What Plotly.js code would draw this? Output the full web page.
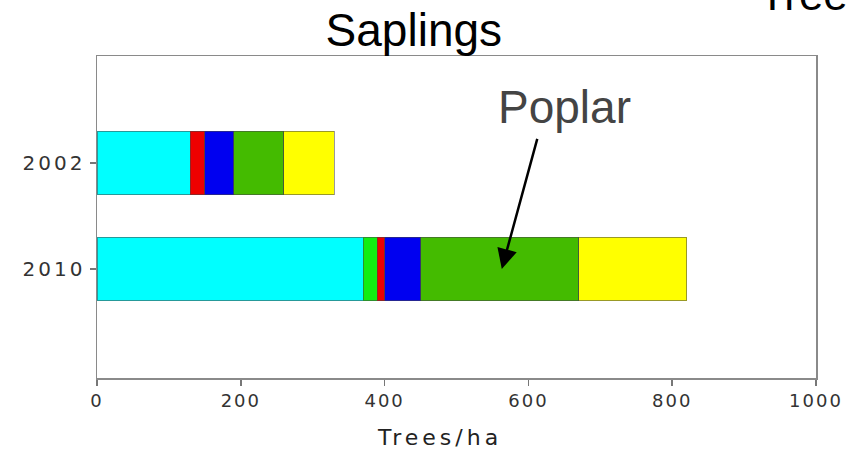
<!DOCTYPE html>
<html>
<head>
<meta charset="utf-8">
<script src="https://cdn.plot.ly/plotly-3.0.1.min.js"></script>
<style>
  body { margin: 0; background: #fff; }
  #chart { width: 848px; height: 452px; }
  .ytick text { letter-spacing: 3px; }
  .xtick text { letter-spacing: 2px; }
</style>
</head>
<body>
<div id="chart"></div>
<script>
// Data (Trees/ha, saplings)
const years = ['2002', '2010'];
const seriesNames = ['Species A', 'Species B', 'Species C', 'Species D', 'Poplar', 'Species E'];
const speciesA = [130, 370];   // cyan
const speciesB = [null, 20];   // bright green
const speciesC = [20, 10];     // red
const speciesD = [40, 50];     // blue
const poplar   = [70, 220];    // green (Poplar)
const speciesE = [70, 150];    // yellow
const seriesColors = ['#00FFFF', '#11EE11', '#EE0000', '#0000F0', '#44BB00', '#FFFF00'];
const xTicks = [0, 200, 400, 600, 800, 1000];
const categoryOrder = ['2010', '2002'];   // bottom to top

const allValues = [speciesA, speciesB, speciesC, speciesD, poplar, speciesE];

const traces = allValues.map((vals, i) => ({
  type: 'bar',
  orientation: 'h',
  name: seriesNames[i],
  y: years,
  x: vals,
  width: 0.6,
  marker: { color: seriesColors[i], line: { color: 'rgba(70,70,70,0.55)', width: 1 } },
  hoverinfo: 'x+name'
}));

const layout = {
  width: 848,
  height: 452,
  margin: { l: 97, r: 32, t: 56, b: 74 },
  barmode: 'stack',
  showlegend: false,
  paper_bgcolor: '#fff',
  plot_bgcolor: '#fff',
  title: {
    text: 'Saplings',
    font: { family: 'Liberation Sans, Arial, sans-serif', size: 46, color: '#000' },
    x: 0.488, xanchor: 'center', xref: 'container',
    y: 0.934, yanchor: 'middle', yref: 'container'
  },
  xaxis: {
    range: [0, 1000],
    tickvals: xTicks,
    ticktext: xTicks.map(String),
    ticks: 'outside', ticklen: 6, tickcolor: '#777', tickwidth: 1.5,
    showgrid: false, zeroline: false,
    showline: true, linecolor: '#8a8a8a', linewidth: 1.5, mirror: true,
    tickfont: { family: 'DejaVu Sans, Arial, sans-serif', size: 18, color: '#333' }
  },
  yaxis: {
    type: 'category',
    categoryorder: 'array',
    categoryarray: categoryOrder,
    range: [-1.03, 2.01],
    ticks: 'outside', ticklen: 6, tickcolor: '#777', tickwidth: 1.5,
    showgrid: false, zeroline: false,
    showline: true, linecolor: '#8a8a8a', linewidth: 1.5, mirror: true,
    tickfont: { family: 'DejaVu Sans, Arial, sans-serif', size: 20, color: '#333' }
  },
  annotations: [
    {
      // arrow pointing at the Poplar segment of the 2010 bar
      xref: 'x', yref: 'y',
      x: 563, y: categoryOrder.indexOf('2010'),
      text: ' ',
      font: { size: 1 },
      showarrow: true,
      standoff: 0, startstandoff: 0,
      ax: 36, ay: -132,
      arrowhead: 2, arrowsize: 1.6, arrowwidth: 2.5, arrowcolor: '#000'
    },
    {
      xref: 'x', yref: 'paper',
      x: 650, y: 0.842,
      xanchor: 'center', yanchor: 'middle',
      text: 'Poplar',
      showarrow: false,
      font: { family: 'Liberation Sans, Arial, sans-serif', size: 46, color: '#444' }
    },
    {
      xref: 'paper', yref: 'paper',
      x: 0.476, y: -0.186,
      xanchor: 'center', yanchor: 'middle',
      text: 'Trees/ha',
      showarrow: false,
      font: { family: 'DejaVu Sans, Arial, sans-serif', size: 22, color: '#222' }
    },
    {
      xref: 'paper', yref: 'paper',
      x: 0.918, y: 1.19,
      xanchor: 'left', yanchor: 'middle',
      text: 'Trees',
      showarrow: false,
      font: { family: 'Liberation Sans, Arial, sans-serif', size: 44, color: '#000' }
    }
  ]
};

Plotly.newPlot('chart', traces, layout, { displayModeBar: false, staticPlot: true }).then(() => {
  document.querySelectorAll('.annotation-text').forEach(t => {
    if (t.textContent === 'Trees/ha') t.style.letterSpacing = '4px';
  });
});
</script>
</body>
</html>
